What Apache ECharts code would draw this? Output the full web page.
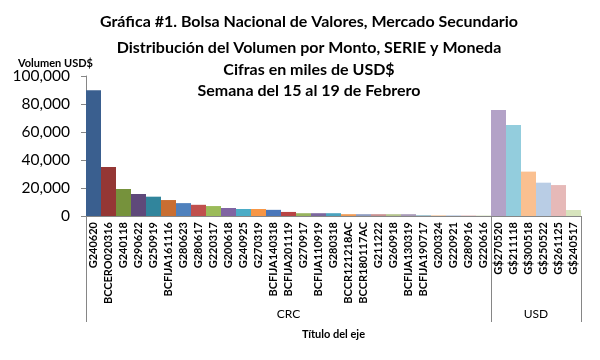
<!DOCTYPE html>
<html><head><meta charset="utf-8">
<script src="https://cdn.jsdelivr.net/npm/echarts@6/dist/echarts.min.js"></script>
<style>html,body{margin:0;padding:0;background:#fff}#c{width:600px;height:360px}</style>
</head><body><div id="c"></div>
<script>
const titleLines = [
  'Gráfica #1. Bolsa Nacional de Valores, Mercado Secundario',
  'Distribución del Volumen por Monto, SERIE y Moneda',
  'Cifras en miles de USD$',
  'Semana del 15 al 19 de Febrero'
];
const yAxisTitle = 'Volumen USD$';
const xAxisTitle = 'Título del eje';
const groupLabels = ['CRC', 'USD'];
const crcCategories = ['G240620','BCCERO020316','G240118','G290622','G250919','BCFIJA161116','G280623','G280617','G220317','G200618','G240925','G270319','BCFIJA140318','BCFIJA201119','G270917','BCFIJA110919','G280318','BCCR121218AC','BCCR180117AC','G211222','G260918','BCFIJA130319','BCFIJA190717','G200324','G220921','G280916','G220616'];
const crcValues = [89800,35000,19300,15700,13800,11400,9200,8000,7100,5700,5000,5000,4400,2900,2000,2000,2000,1300,1300,1300,1300,1300,700,600,600,500,400];
const usdCategories = ['G$270520','G$211118','G$300518','G$250522','G$261125','G$240517'];
const usdValues = [75700,65000,31700,23800,22100,4300];
const yTicks = [0,20000,40000,60000,80000,100000];

const palette = ['#3A5F8F','#953735','#76923C','#5F497A','#31859C','#C86E32',
  '#4F81BD','#C0504D','#9BBB59','#8064A2','#4BACC6','#F79646',
  '#4A77BA','#B94444','#98B45E','#7B679E','#4AA3BE','#EF9A55',
  '#8E9CC0','#C89090','#B5C48E','#A89AB8','#A8C8D4','#F5D0B0',
  '#C8D4E8','#E8C8C8','#DCE6C8',
  '#B3A2C7','#93CDDD','#FAC090','#B9CDE5','#E6B9B8','#D7E4BD'];

const categories = crcCategories.concat(usdCategories);
const values = crcValues.concat(usdValues);
const nCrc = crcCategories.length, nAll = categories.length;
const FONT = 'Lato';
const titleTops = [9, 35, 57, 78];

const chart = echarts.init(document.getElementById('c'));
const titles = titleLines.map((t, i) => ({
  text: t, left: 304, top: titleTops[i], textAlign: 'center',
  textStyle: {fontFamily: FONT, fontSize: 16, fontWeight: 'bold', color: '#000'}
}));
titles.push({text: yAxisTitle, left: 13, top: 53,
  textStyle: {fontFamily: FONT, fontSize: 11, fontWeight: 'bold', color: '#000'}});

chart.setOption({
  animation: false,
  title: titles,
  grid: {left: 86, right: 19, top: 76, bottom: 144, containLabel: false},
  xAxis: [{
    type: 'category', data: categories,
    axisLine: {lineStyle: {color: '#868686'}},
    axisTick: {show: false},
    axisLabel: {rotate: 90, interval: 0, fontSize: 11, fontWeight: 'bold', color: '#000', margin: 6, fontFamily: FONT}
  }, {
    type: 'value', min: 0, max: nAll, position: 'bottom',
    axisLine: {show: false}, splitLine: {show: false},
    axisTick: {show: true, customValues: [0, nCrc, nAll], length: 106, lineStyle: {color: '#868686'}},
    axisLabel: {customValues: [nCrc / 2, (nCrc + nAll) / 2], formatter: v => v < nCrc ? groupLabels[0] : groupLabels[1],
      margin: 92, fontSize: 12, color: '#000', fontFamily: FONT},
    name: xAxisTitle, nameLocation: 'middle', nameGap: 113,
    nameTextStyle: {fontSize: 11, fontWeight: 'bold', color: '#000', fontFamily: FONT}
  }],
  yAxis: {
    type: 'value', min: 0, max: 100000, interval: 20000,
    axisLine: {show: true, lineStyle: {color: '#868686'}},
    axisTick: {show: true, length: 5, lineStyle: {color: '#868686'}},
    splitLine: {show: false},
    axisLabel: {customValues: yTicks, formatter: v => v.toLocaleString('en-US'), fontSize: 15.5, color: '#000', margin: 16, fontFamily: FONT}
  },
  series: [{
    type: 'bar', data: values, barCategoryGap: '0%', xAxisIndex: 0,
    itemStyle: {color: p => palette[p.dataIndex % palette.length]}
  }]
});
</script></body></html>
